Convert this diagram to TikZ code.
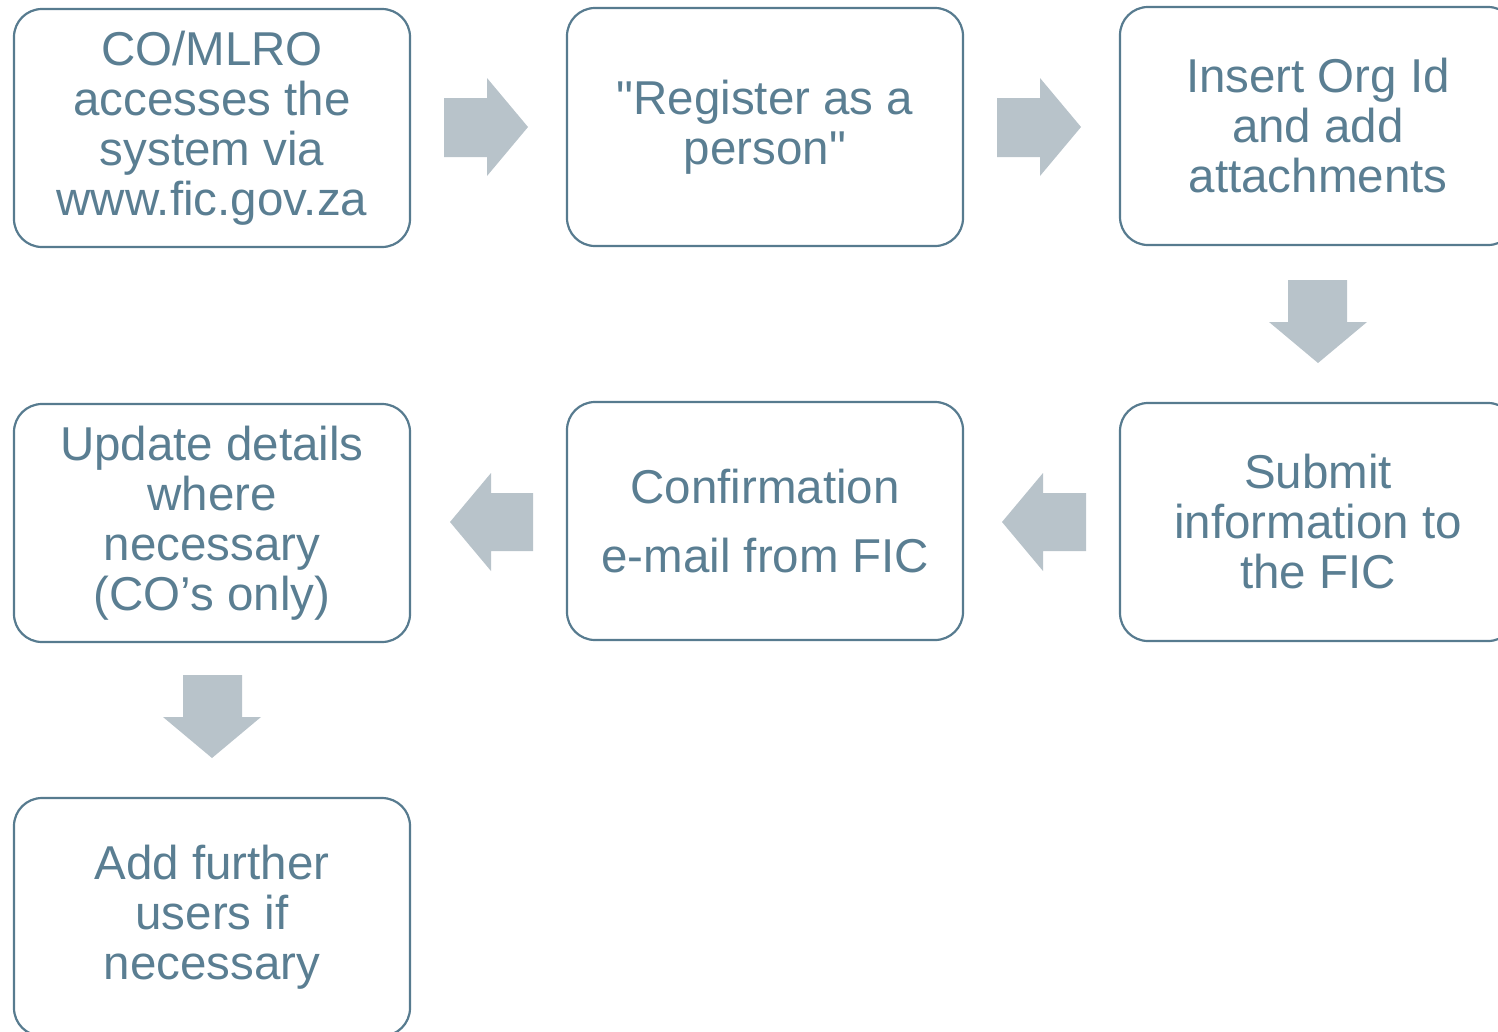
\documentclass[tikz,border=0pt]{standalone}
\usepackage{fontspec}
\setmainfont{Liberation Sans}
% same face without TeX ligature mapping, so " stays a straight quote
\newfontfamily\plainquote{Liberation Sans}
\newcommand{\sq}{{\plainquote"}}
\definecolor{boxline}{HTML}{577B8F}
\definecolor{boxtext}{HTML}{5A7E92}
\definecolor{arrowfill}{HTML}{B8C3CA}
\tikzset{
  stepbox/.style={draw=boxline, line width=2.2pt, rounded corners=28pt,
    minimum width=396pt, minimum height=238pt, inner sep=0pt,
    text=boxtext, align=center, font=\fontsize{47.5}{50}\selectfont},
  blockarrow/.style={fill=arrowfill, draw=none}
}
\begin{document}
\begin{tikzpicture}[x=1pt, y=-1pt]
\useasboundingbox (0,0) rectangle (1498,1031);
% process steps
\node[stepbox] (access)  at (212,128)  {CO/MLRO\\accesses the\\system via\\www.fic.gov.za};
\node[stepbox] (register) at (765,127) {\sq Register as a\\person\sq};
\node[stepbox] (insert)  at (1318,126) {Insert Org Id\\and add\\attachments};
\node[stepbox] (submit)  at (1318,522) {Submit\\information to\\the FIC};
\node[stepbox] (confirm) at (765,521)  {Confirmation\\[19pt]e-mail from FIC};
\node[stepbox] (update)  at (212,523)  {Update details\\where\\necessary\\(CO’s only)};
\node[stepbox] (users)   at (212,917)  {Add further\\users if\\necessary};
% block arrows between the steps
\fill[blockarrow] (444,98)--(487,98)--(487,78)--(528,127)--(487,176)--(487,157)--(444,157)--cycle;
\fill[blockarrow] (997,98)--(1040,98)--(1040,78)--(1081,127)--(1040,176)--(1040,157)--(997,157)--cycle;
\fill[blockarrow] (1288,280)--(1347,280)--(1347,322)--(1367,322)--(1318,363)--(1269,322)--(1288,322)--cycle;
\fill[blockarrow] (1086,493)--(1043,493)--(1043,473)--(1002,522)--(1043,571)--(1043,551)--(1086,551)--cycle;
\fill[blockarrow] (533,493)--(491,493)--(491,473)--(450,522)--(491,571)--(491,551)--(533,551)--cycle;
\fill[blockarrow] (183,675)--(242,675)--(242,717)--(261,717)--(212,758)--(163,717)--(183,717)--cycle;
\end{tikzpicture}
\end{document}
